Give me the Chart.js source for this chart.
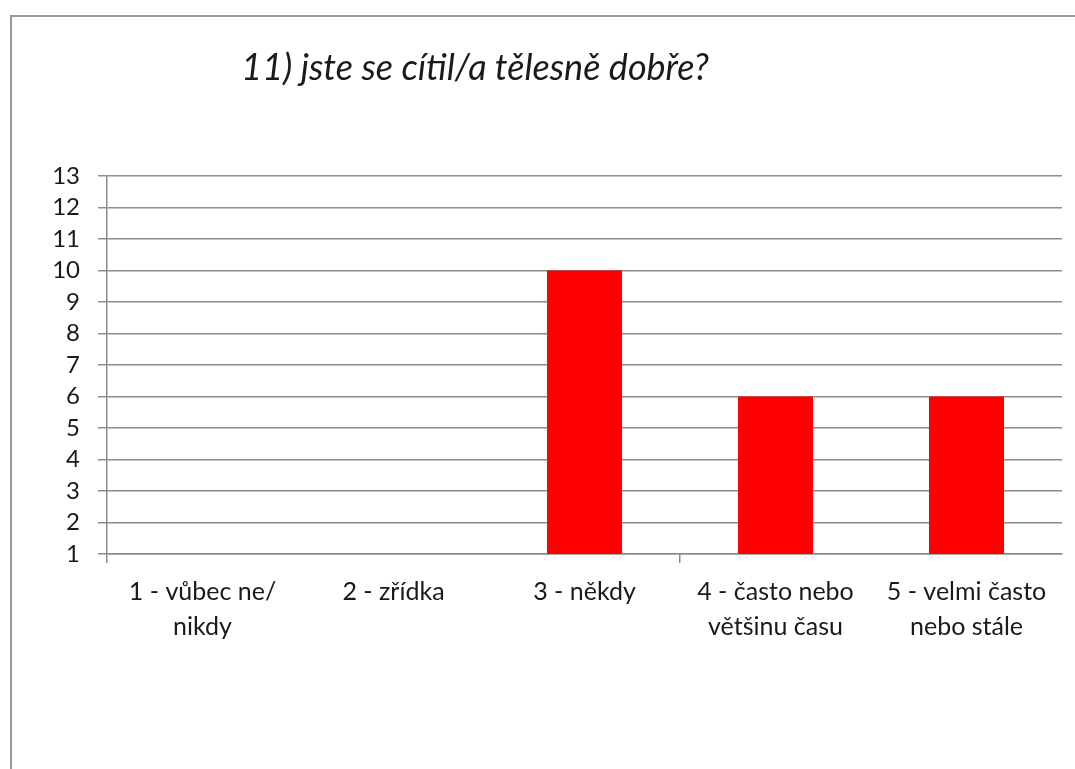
<!DOCTYPE html>
<html>
<head>
<meta charset="utf-8">
<script src="https://cdn.jsdelivr.net/npm/chart.js@4"></script>
<style>
  html, body { margin: 0; padding: 0; background: #fff; overflow: hidden; }
  #wrap { position: relative; width: 1075px; height: 769px; }
  #title { position: absolute; left: 0; width: 950px; top: 44px; text-align: center;
           font: italic 36px Lato, sans-serif; color: #1a1a1a; }
  #graf { position: absolute; left: 0; top: 0; }
</style>
</head>
<body>
<div id="wrap">
  <canvas id="graf" width="1075" height="769"></canvas>
  <div id="title">11) jste se cítil/a tělesně dobře?</div>
</div>
<script>
var kategorie = [
    ['1 - vůbec ne/', 'nikdy'],
    '2 - zřídka',
    '3 - někdy',
    ['4 - často nebo', 'většinu času'],
    ['5 - velmi často', 'nebo stále']
];
var hodnoty = [0, 0, 10, 6, 6];
var osaMin = 1;
var osaMax = 13;

var seda = '#8c8c8c';

// ramecek grafu (jen horni a leva hrana, zbytek je mimo obrazek)
var ramecek = {
    id: 'ramecek',
    beforeDraw: function (chart) {
        var c = chart.ctx;
        c.save();
        c.strokeStyle = '#9a9a9a';
        c.lineWidth = 2;
        c.beginPath();
        c.moveTo(11, chart.height);
        c.lineTo(11, 16);
        c.lineTo(chart.width, 16);
        c.stroke();
        c.restore();
    }
};

var ctx = document.getElementById('graf');
var myChart = new Chart(ctx, {
    type: 'bar',
    data: {
        labels: kategorie,
        datasets: [{
            label: '',
            data: hodnoty,
            backgroundColor: '#ff0000',
            borderWidth: 0,
            barPercentage: 0.393,
            categoryPercentage: 1
        }]
    },
    options: {
        responsive: false,
        animation: false,
        layout: {
            padding: { left: 7, top: 176, right: 13, bottom: 95 }
        },
        plugins: {
            legend: { display: false },
            title: { display: false },
            tooltip: { enabled: false }
        },
        scales: {
            x: {
                afterFit: function (s) { s.height = 120; },
                grid: {
                    drawOnChartArea: false,
                    drawTicks: true,
                    tickLength: 9,
                    offset: true,
                    lineWidth: 1.5,
                    tickColor: function (c) { return (c.index === 0 || c.index === 3) ? seda : 'rgba(0,0,0,0)'; }
                },
                border: { display: true, color: seda, width: 1.5 },
                ticks: {
                    color: '#1a1a1a',
                    padding: 11,
                    maxRotation: 0,
                    autoSkip: false,
                    font: { family: 'Lato', size: 25, lineHeight: 1.42 }
                }
            },
            y: {
                min: osaMin,
                max: osaMax,
                afterFit: function (s) { s.width = 100; },
                grid: {
                    color: seda,
                    lineWidth: 1.5,
                    drawTicks: true,
                    tickLength: 9,
                    tickColor: seda
                },
                border: { display: true, color: seda, width: 1.5 },
                ticks: {
                    stepSize: 1,
                    autoSkip: false,
                    color: '#1a1a1a',
                    padding: 18,
                    font: { family: 'Lato', size: 24 }
                }
            }
        }
    },
    plugins: [ramecek]
});
</script>
</body>
</html>
